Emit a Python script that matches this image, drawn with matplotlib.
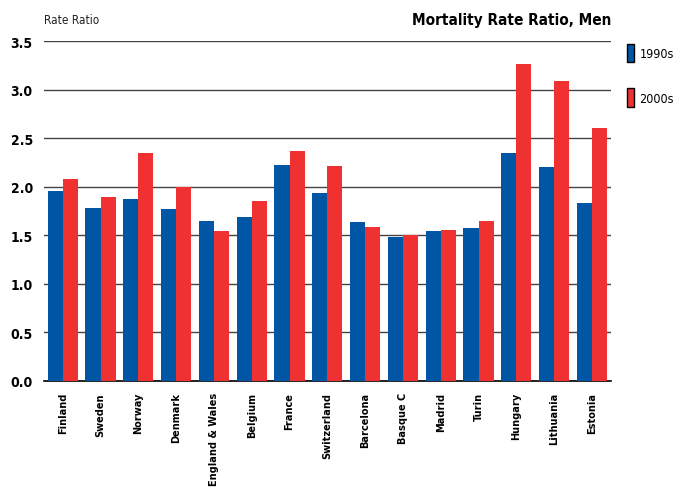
import numpy as np
import matplotlib.pyplot as plt
from matplotlib.patches import Patch

plt.rcParams['font.family'] = ['DejaVu Sans']
plt.rcParams['font.stretch'] = 'condensed'

# values
countries = ["Finland", "Sweden", "Norway", "Denmark", "England & Wales", "Belgium",
             "France", "Switzerland", "Barcelona", "Basque C", "Madrid", "Turin",
             "Hungary", "Lithuania", "Estonia"]
ratio_1990s = [1.96, 1.78, 1.87, 1.77, 1.65, 1.69, 2.22, 1.94, 1.64, 1.48, 1.54, 1.57, 2.35, 2.20, 1.83]
ratio_2000s = [2.08, 1.89, 2.35, 2.00, 1.54, 1.85, 2.37, 2.21, 1.59, 1.50, 1.55, 1.65, 3.26, 3.09, 2.60]
yticks = [0.0, 0.5, 1.0, 1.5, 2.0, 2.5, 3.0, 3.5]

blue = '#0055a5'
red = '#ef3131'

fig = plt.figure(figsize=(6.75, 4.89), dpi=100)
ax = fig.add_axes([0.065, 0.219, 0.84, 0.695])

x = np.arange(len(countries))
w = 0.4
ax.bar(x - w / 2, ratio_1990s, w, color=blue, zorder=3)
ax.bar(x + w / 2, ratio_2000s, w, color=red, zorder=3)

ax.set_xlim(-0.5, len(countries) - 0.5)
ax.set_ylim(0, 3.5)
ax.set_yticks(yticks)
ax.set_yticklabels([f"{v:.1f}" for v in yticks], fontsize=10, fontweight='bold')
ax.yaxis.grid(True, color='#444444', linewidth=1.0, zorder=0)
ax.set_xticks(x)
ax.set_xticklabels(countries, rotation=90, fontsize=7.8, fontweight='bold',
                   fontstretch='condensed')
ax.tick_params(axis='both', length=0)
ax.tick_params(axis='y', pad=8)
ax.tick_params(axis='x', pad=8)

for s in ['left', 'right', 'top']:
    ax.spines[s].set_visible(False)
ax.spines['bottom'].set_color('black')
ax.spines['bottom'].set_linewidth(1.2)

fig.text(0.065, 0.958, "Rate Ratio", fontsize=8.5, ha='left', va='center', color='#222222')
fig.text(0.905, 0.958, "Mortality Rate Ratio, Men", fontsize=11, fontweight='bold',
         ha='right', va='center')

handles = [Patch(facecolor=blue, edgecolor='black', label='1990s'),
           Patch(facecolor=red, edgecolor='black', label='2000s')]
fig.legend(handles=handles, loc='upper left', bbox_to_anchor=(0.912, 0.932),
           frameon=False, handlelength=0.6, handleheight=1.9, labelspacing=2.1,
           handletextpad=0.4, fontsize=9)

fig.savefig("out.png", dpi=100)
